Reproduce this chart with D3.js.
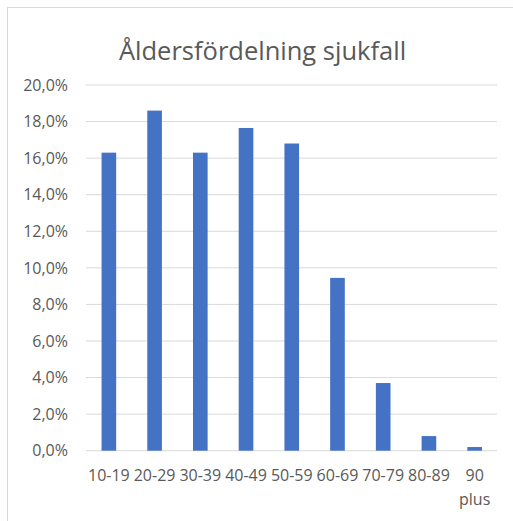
<!DOCTYPE html>
<html>
<head>
<meta charset="utf-8">
<script src="https://cdn.jsdelivr.net/npm/d3@7"></script>
<style>
  body { margin: 0; background: #fff; }
  text { font-family: "Open Sans", "Liberation Sans", sans-serif; fill: #595959; }
</style>
</head>
<body>
<svg id="chart" width="513" height="521"></svg>
<script>
const title = "Åldersfördelning sjukfall";
const ageGroups = ["10-19", "20-29", "30-39", "40-49", "50-59", "60-69", "70-79", "80-89", "90 plus"];
const shares = [16.3, 18.6, 16.3, 17.65, 16.8, 9.45, 3.7, 0.8, 0.2];
const yTicks = [0, 2, 4, 6, 8, 10, 12, 14, 16, 18, 20];

const svg = d3.select("#chart");
const margin = { top: 85, right: 16, bottom: 70, left: 86 };
const width = 513, height = 521;

// chart area frame, cut off at right and bottom like the screenshot
svg.append("rect")
    .attr("x", 7.5).attr("y", 7.5)
    .attr("width", width + 20).attr("height", height + 20)
    .attr("fill", "#fff").attr("stroke", "#d9d9d9");

const x = d3.scaleBand()
    .domain(ageGroups)
    .range([margin.left, width - margin.right + 0.5])
    .paddingInner(0.68)
    .paddingOuter(0.34);

const y = d3.scaleLinear()
    .domain([0, 20])
    .range([height - margin.bottom - 0.3, margin.top]);

svg.append("text")
    .attr("x", 262.5).attr("y", 60)
    .attr("text-anchor", "middle")
    .style("font-size", "25.5px")
    .text(title);

// gridlines
svg.append("g")
    .selectAll("line")
    .data(yTicks)
    .join("line")
    .attr("x1", margin.left).attr("x2", width - margin.right)
    .attr("y1", d => y(d)).attr("y2", d => y(d))
    .attr("stroke", "#d9d9d9").attr("stroke-width", 1);

// y labels
const fmt = d => d.toFixed(1).replace(".", ",") + "%";
svg.append("g")
    .selectAll("text")
    .data(yTicks)
    .join("text")
    .attr("x", 68)
    .attr("y", d => y(d))
    .attr("dy", "0.36em")
    .attr("text-anchor", "end")
    .style("font-size", "16px")
    .text(fmt);

// bars
svg.append("g")
    .selectAll("rect")
    .data(ageGroups)
    .join("rect")
    .attr("x", d => x(d))
    .attr("width", x.bandwidth())
    .attr("y", (d, i) => y(shares[i]))
    .attr("height", (d, i) => y(0) - y(shares[i]))
    .attr("fill", "#4472c4");

// x labels, "90 plus" wraps
const xl = svg.append("g")
    .selectAll("text")
    .data(ageGroups)
    .join("text")
    .attr("x", d => x(d) + x.bandwidth() / 2)
    .attr("y", 481)
    .attr("text-anchor", "middle")
    .style("font-size", "16px");

xl.each(function(d) {
    const parts = d.includes(" ") ? d.split(" ") : [d];
    d3.select(this).selectAll("tspan")
        .data(parts)
        .join("tspan")
        .attr("x", x(d) + x.bandwidth() / 2)
        .attr("dy", (p, i) => i ? 24 : 0)
        .text(p => p);
});
</script>
</body>
</html>
